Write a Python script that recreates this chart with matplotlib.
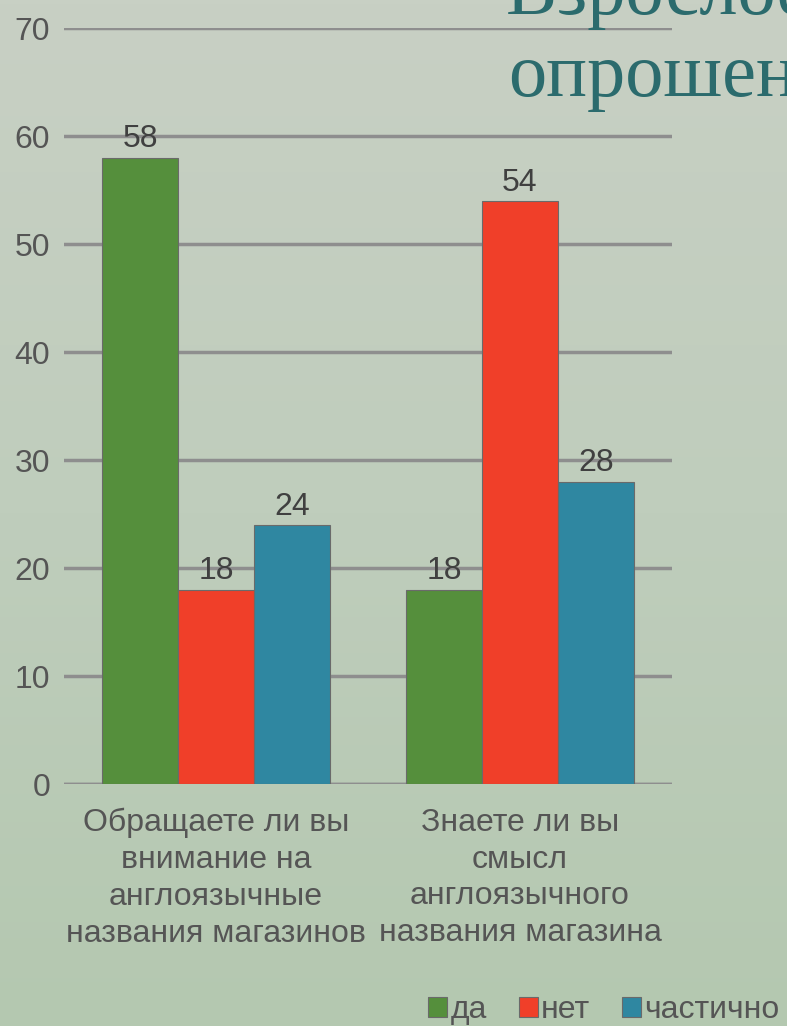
import matplotlib
matplotlib.use("Agg")
import matplotlib.pyplot as plt
import numpy as np
from matplotlib.colors import LinearSegmentedColormap

categories = ["Обращаете ли вы\nвнимание на\nанглоязычные\nназвания магазинов",
              "Знаете ли вы\nсмысл\nанглоязычного\nназвания магазина"]
series_names = ["да", "нет", "частично"]
values_da = [58, 18]
values_net = [18, 54]
values_chast = [24, 28]
yticks = [0, 10, 20, 30, 40, 50, 60, 70]
colors = ["#558f3c", "#f03f29", "#2f87a1"]

plt.rcParams['font.family'] = ['Liberation Sans', 'DejaVu Sans']
txt = "#555555"
fs = 23

fig = plt.figure(figsize=(7.87, 10.26), dpi=100)

# background gradient
bg = fig.add_axes([0, 0, 1, 1], zorder=-10)
cmap = LinearSegmentedColormap.from_list("bg", ["#c8d0c4", "#bfcdbc", "#b4c8b0"])
grad = np.linspace(0, 1, 256).reshape(-1, 1)
bg.imshow(grad, aspect="auto", cmap=cmap, extent=[0, 1, 0, 1], origin="upper")
bg.axis("off")

# title (cut off at the right edge, as in the reference)
fig.text(506/787, 1 - 14/1026, "Взрослое население,", fontsize=55, family="Liberation Serif",
         color="#2b6b6d", ha="left", va="baseline")
fig.text(508/787, 1 - 96/1026, "опрошенные", fontsize=55, family="Liberation Serif",
         color="#2b6b6d", ha="left", va="baseline")

ax = fig.add_axes([64/787, 1 - 784/1026, (672 - 64)/787, (784 - 28)/1026])
ax.patch.set_alpha(0)

x = np.arange(len(categories))
w = 0.25
all_vals = [values_da, values_net, values_chast]
for i, (name, vals, c) in enumerate(zip(series_names, all_vals, colors)):
    bars = ax.bar(x + (i - 1) * w, vals, w, color=c, edgecolor="#6a6a6a", linewidth=0.8,
                  label=name, zorder=3)
    for b, v in zip(bars, vals):
        ax.text(b.get_x() + b.get_width() / 2, v + 0.3, str(v), ha="center", va="bottom",
                fontsize=fs, color="#404040", zorder=4)

ax.set_xlim(-0.5, 1.5)
ax.set_ylim(0, 70)
ax.set_yticks(yticks)
ax.yaxis.grid(True, color="#8e8e8e", linewidth=2.5, zorder=1)
ax.set_axisbelow(True)
for s in ax.spines.values():
    s.set_visible(False)
ax.axhline(0, color="#8e8e8e", linewidth=2.5, zorder=2)
ax.tick_params(axis="y", length=0, pad=10, labelsize=fs, labelcolor=txt)
ax.tick_params(axis="x", length=0, pad=17, labelsize=fs, labelcolor=txt)
ax.set_xticks(x)
ax.set_xticklabels(categories, linespacing=1.3)

fig.legend(loc="center left", bbox_to_anchor=(428/787, 1 - 1010/1026), ncol=3, frameon=False,
           borderaxespad=0, borderpad=0,
           handlelength=0.6, handleheight=0.6, handletextpad=0.1, columnspacing=1.0,
           fontsize=fs, labelcolor=txt)

fig.savefig("out.png", dpi=100)
